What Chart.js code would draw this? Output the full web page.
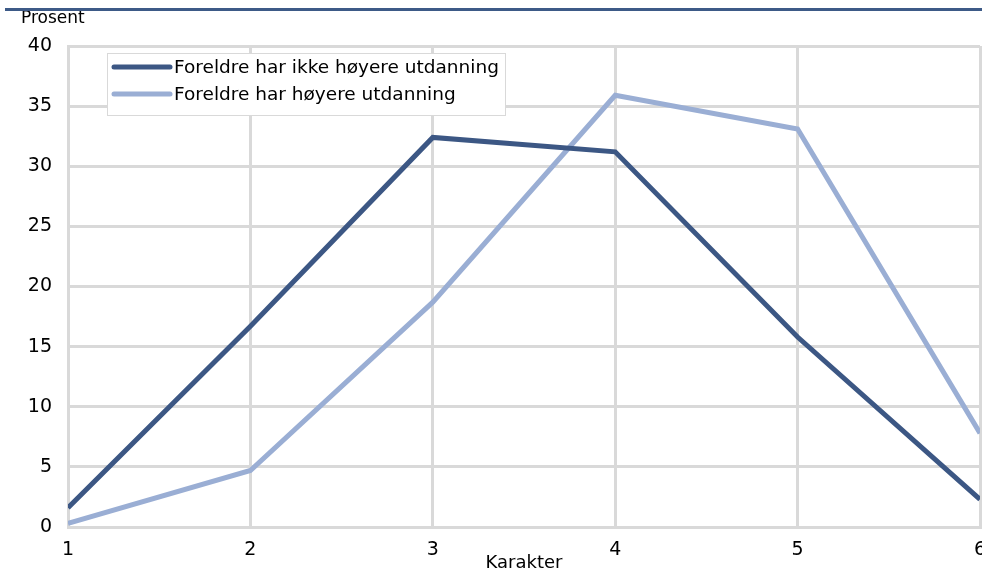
<!DOCTYPE html>
<html>
<head>
<meta charset="utf-8">
<script src="https://cdn.jsdelivr.net/npm/chart.js@4/dist/chart.umd.min.js"></script>
<style>
  html, body { margin: 0; padding: 0; background: #fff; overflow: hidden; }
  #wrap { position: relative; width: 982px; height: 578px; }
  #topline { position: absolute; left: 5px; right: 0; top: 8px; height: 3px; background: #3d5a87; }
  canvas { position: absolute; left: 0; top: 0; }
</style>
</head>
<body>
<div id="wrap">
  <canvas id="myChart" width="982" height="578"></canvas>
  <div id="topline"></div>
</div>
<script>
  const karakter = [1, 2, 3, 4, 5, 6];
  const ikkeHoyere = [1.6, 16.7, 32.4, 31.2, 15.8, 2.3];
  const hoyere = [0.3, 4.7, 18.7, 35.9, 33.1, 7.8];
  const yTicks = [0, 5, 10, 15, 20, 25, 30, 35, 40];

  const darkBlue = '#3c5784';
  const lightBlue = '#9aaed4';
  const gridGray = '#d9d9d9';
  const font = 'DejaVu Sans';

  const legendBox = {
    id: 'legendBox',
    afterDatasetsDraw(chart) {
      const ctx = chart.ctx;
      ctx.save();
      ctx.fillStyle = '#fff';
      ctx.fillRect(107, 53, 398, 62);
      ctx.strokeStyle = gridGray;
      ctx.lineWidth = 1;
      ctx.strokeRect(107.5, 53.5, 398, 62);
      ctx.font = '18.5px "' + font + '"';
      ctx.textBaseline = 'middle';
      chart.data.datasets.forEach((ds, i) => {
        const y = 67 + i * 27;
        ctx.strokeStyle = ds.borderColor;
        ctx.lineWidth = 5;
        ctx.lineCap = 'round';
        ctx.beginPath();
        ctx.moveTo(114, y);
        ctx.lineTo(170, y);
        ctx.stroke();
        ctx.fillStyle = '#000';
        ctx.fillText(ds.label, 174, y + 1);
      });
      ctx.font = '17px "' + font + '"';
      ctx.fillText('Prosent', 21, 19);
      ctx.restore();
    }
  };

  const data = {
    labels: karakter,
    datasets: [{
      label: 'Foreldre har ikke høyere utdanning',
      data: karakter.map((k, i) => ({ x: k, y: ikkeHoyere[i] })),
      borderColor: darkBlue,
      backgroundColor: darkBlue,
      borderWidth: 5,
      pointRadius: 0,
      tension: 0
    }, {
      label: 'Foreldre har høyere utdanning',
      data: karakter.map((k, i) => ({ x: k, y: hoyere[i] })),
      borderColor: lightBlue,
      backgroundColor: lightBlue,
      borderWidth: 5,
      pointRadius: 0,
      tension: 0
    }]
  };

  const config = {
    type: 'line',
    data: data,
    options: {
      responsive: false,
      animation: false,
      layout: { padding: { top: 46, right: 2, left: 0, bottom: 0 } },
      plugins: {
        legend: { display: false },
        tooltip: { enabled: false }
      },
      scales: {
        x: {
          type: 'linear',
          min: 1,
          max: 6,
          afterFit(scale) {
            scale.height = 51;
            scale.paddingLeft = 0;
            scale.paddingRight = 0;
          },
          afterBuildTicks(scale) { scale.ticks = karakter.map(v => ({ value: v })); },
          grid: { color: gridGray, lineWidth: 3, drawTicks: false },
          border: { color: gridGray, width: 3 },
          ticks: { color: '#000', font: { family: font, size: 19 }, padding: 12, maxRotation: 0 },
          title: {
            display: true,
            text: 'Karakter',
            color: '#000',
            font: { family: font, size: 18 },
            padding: { top: 0, bottom: 4 }
          }
        },
        y: {
          min: 0,
          max: 40,
          afterFit(scale) {
            scale.width = 68;
            scale.paddingTop = 0;
            scale.paddingBottom = 0;
          },
          afterBuildTicks(scale) { scale.ticks = yTicks.map(v => ({ value: v })); },
          grid: { color: gridGray, lineWidth: 3, drawTicks: false },
          border: { color: gridGray, width: 3 },
          ticks: { color: '#000', font: { family: font, size: 19 }, padding: 16 }
        }
      }
    },
    plugins: [legendBox]
  };

  const myChart = new Chart(
    document.getElementById('myChart'),
    config
  );
</script>
</body>
</html>
